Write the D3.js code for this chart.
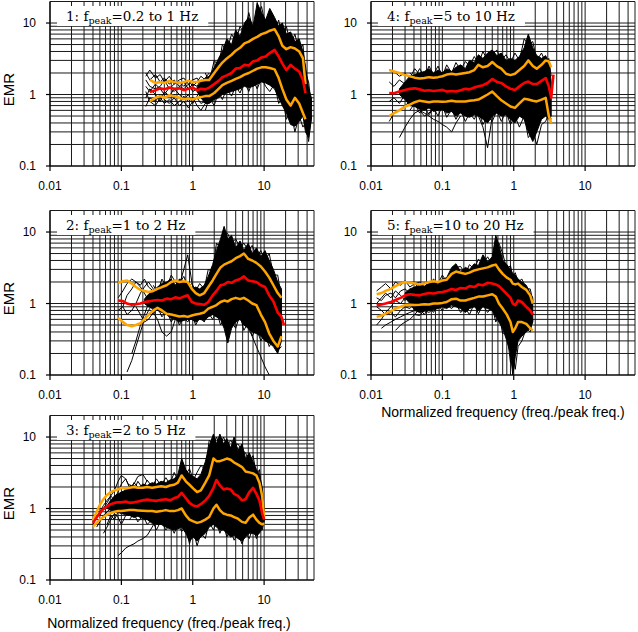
<!DOCTYPE html>
<html><head><meta charset="utf-8">
<script src="https://cdn.jsdelivr.net/npm/d3@7"></script>
<style>body{margin:0;background:#fff}svg{display:block}</style>
</head><body><svg id="c" width="638" height="632"></svg>
<script>
const _ = null;
// ---------- tick labels ----------
const xTickLabels = ["0.01", "0.1", "1", "10"];
const yTickLabels = ["0.1", "1", "10"];
const yTitle = "EMR";
const xTitle = "Normalized frequency (freq./peak freq.)";
const panelNames = ["1", "2", "3", "4", "5"];
const panelRanges = ["=0.2 to 1 Hz", "=1 to 2 Hz", "=2 to 5 Hz", "=5 to 10 Hz", "=10 to 20 Hz"];

// ---------- panel 1 : fpeak 0.2-1 Hz ----------
const f1 = [0.22,0.25,0.3,0.35,0.4,0.47,0.55,0.65,0.75,0.87,1.0,1.15,1.3,1.5,1.7,2.0,2.3,2.6,3.0,3.5,4.0,4.6,5.3,6.1,7.0,8.0,9.2,10.5,12,14,16,18,20.5,23.5,27,31,35,38,42,46];
const mean1 = [_,1.08,1.15,1.22,1.18,1.25,1.2,1.22,1.15,1.2,1.25,1.15,1.2,1.18,1.25,1.4,1.55,1.75,1.85,2.0,2.3,2.35,2.6,2.55,2.9,3.0,3.3,3.4,3.8,4.2,3.4,2.7,2.2,2.6,2.3,2.1,1.6,1.05,_,_];
const sigHi1 = [_,1.6,1.45,1.5,1.45,1.55,1.5,1.45,1.5,1.55,1.5,1.5,1.55,1.6,1.6,2.0,2.4,2.8,3.2,3.6,4.1,4.5,5.2,5.5,6.0,6.4,7.0,7.3,7.8,8.2,6.5,4.8,4.3,4.6,4.4,4.0,3.2,1.4,_,_];
const sigLo1 = [_,0.8,0.9,0.95,0.9,0.98,0.95,0.9,0.86,0.88,0.85,0.9,0.92,0.95,0.95,1.05,1.2,1.35,1.45,1.55,1.65,1.75,1.9,2.0,2.15,2.3,2.4,2.4,2.35,2.25,1.7,1.2,0.85,0.7,0.9,0.75,0.55,0.45,_,_];
const envHi1 = [_,_,_,_,_,_,_,_,_,_,_,1.25,1.5,1.7,1.8,2.4,3.2,4.0,6.0,5.0,8.0,6.5,10,12,9,19,14,11,16,12,9,10,7,7.5,5.5,6,4.0,2.5,1.2,0.9];
const envLo1 = [_,_,_,_,_,_,_,_,_,_,_,1.1,0.9,0.75,0.75,0.85,0.9,1.0,1.05,1.1,1.15,1.2,1.3,1.25,1.3,1.4,1.5,1.45,1.35,1.2,0.9,0.7,0.55,0.38,0.36,0.42,0.5,0.3,0.25,0.45];
const spikeHi1 = [_,_,_,_,_,_,_,_,_,_,_,_,_,2.0,1.5,3.0,2.5,5.0,4.0,7.0,5.5,9.0,7.0,14,8,12,17,9,13,8,11,6,9,5,7,4,5,2,1.5,0.7];
const spikeLo1 = [_,_,_,_,_,_,_,_,_,_,_,_,_,0.6,0.9,0.7,1.1,0.85,1.2,0.95,1.3,1.05,1.5,1.1,1.6,1.2,1.7,1.3,1.1,1.4,0.75,0.9,0.45,0.6,0.3,0.5,0.35,0.4,0.22,0.5];
const traces1 = [
  [2.0,1.6,1.9,1.5,1.7,1.4,1.6,1.3,1.5,1.2,1.4,1.3,1.6,1.5,1.8],
  [0.68,0.9,0.8,1.0,0.85,0.75,0.9,0.7,0.8,0.65,0.8,0.9,0.75,0.8,1.0],
  [1.3,1.1,1.4,1.2,1.0,1.25,1.1,1.3,1.2,1.4,1.1,1.2,1.0,1.3,1.5],
  [0.9,1.2,1.0,0.8,1.1,0.95,1.2,1.0,0.85,1.0,0.75,0.95,1.1,1.0,1.2],
  [1.6,1.3,1.2,1.3,1.6,1.2,1.4,1.5,1.3,1.6,1.3,1.5,1.8,1.6,1.7],
  [1.1,0.8,0.7,0.9,0.75,0.85,0.7,0.8,0.95,0.8,0.9,0.7,0.6,0.75,0.9],
  [1.8,2.2,1.7,1.9,1.5,1.8,1.4,1.6,1.7,1.4,1.6,1.7,1.4,1.7,2.0]
];

// ---------- panel 2 : fpeak 1-2 Hz ----------
const f2 = [0.09,0.105,0.12,0.14,0.16,0.185,0.21,0.24,0.28,0.32,0.37,0.43,0.5,0.57,0.65,0.75,0.85,0.97,1.1,1.25,1.45,1.65,1.9,2.15,2.45,2.75,3.1,3.5,4.0,4.6,5.2,6.0,6.8,7.8,9.0,10.3,11.8,13.5,15.5,17.5,19];
const mean2 = [1.1,1.08,1.0,0.96,0.98,1.0,1.05,1.07,1.1,1.12,1.1,1.17,1.15,1.22,1.18,1.25,1.3,1.05,1.0,0.98,0.96,1.05,1.3,1.5,1.8,1.85,2.0,1.95,2.1,2.2,2.4,2.1,2.05,2.0,1.8,1.7,1.3,1.07,0.75,0.65,0.5];
const sigHi2 = [1.95,2.05,2.1,1.9,1.7,1.55,1.5,1.45,1.5,1.6,1.7,1.8,2.0,2.1,2.0,2.05,2.0,1.6,1.4,1.3,1.4,1.7,2.1,2.6,3.2,3.5,3.7,3.9,4.3,4.6,5.0,4.2,4.0,3.7,3.3,2.8,2.3,1.8,1.4,1.2,_];
const sigLo2 = [0.63,0.55,0.5,0.48,0.5,0.53,0.6,0.7,0.8,0.87,0.8,0.72,0.7,0.68,0.66,0.67,0.65,0.68,0.7,0.72,0.75,0.85,0.9,0.95,1.05,1.1,1.07,1.15,1.2,1.15,1.2,1.1,1.0,0.95,0.7,0.55,0.38,0.3,0.25,0.35,_];
const envHi2 = [_,_,_,_,_,_,1.15,1.35,1.5,1.7,1.9,2.0,2.2,1.8,2.2,2.0,1.9,1.6,1.7,1.6,1.8,2.4,3.5,5.5,8.0,12,8,9,6,7.5,5.5,7.0,5.0,6.0,4.5,5.5,4.0,3.0,2.0,1.6,_];
const envLo2 = [_,_,_,_,_,_,1.0,0.9,0.85,0.8,0.75,0.7,0.62,0.6,0.55,0.58,0.6,0.6,0.55,0.6,0.58,0.65,0.7,0.65,0.6,0.45,0.28,0.45,0.55,0.6,0.5,0.45,0.4,0.38,0.35,0.3,0.28,0.25,0.2,0.3,_];
const spikeHi2 = [_,_,_,_,_,_,_,_,1.8,1.4,2.2,1.7,2.5,2.0,1.9,2.4,1.7,1.9,1.5,1.9,1.6,3.0,2.8,7.0,6.0,10,9.5,7,8,6,7,5.5,6.5,4.5,5.5,4.0,5.0,2.5,2.5,1.2,_];
const spikeLo2 = [_,_,_,_,_,_,_,_,0.7,0.9,0.65,0.8,0.55,0.7,0.5,0.65,0.55,0.7,0.5,0.65,0.55,0.75,0.6,0.8,0.5,0.6,0.35,0.55,0.45,0.7,0.42,0.55,0.35,0.45,0.3,0.38,0.25,0.32,0.22,0.25,_];
const traces2 = [
  [1.2,1.5,1.9,2.2,2.0,1.8,2.2,1.7,1.5,1.3,1.4,1.2,1.3],
  [_,_,0.11,0.16,0.25,0.4,0.6,0.8,1.0,1.2,1.1,1.3,1.2],
  [_,0.9,1.3,1.6,2.0,1.7,1.4,1.1,0.9,1.0,1.2,1.0,1.1],
  [_,_,_,0.2,0.3,0.5,0.7,1.0,0.8,0.9,1.0,0.85,0.95],
  [0.8,0.9,0.7,0.8,1.0,1.4,1.7,2.0,1.6,1.3,1.5,1.7,1.4],
  [_,_,_,_,0.9,0.7,0.55,0.6,0.75,0.6,0.4,0.35,0.4,0.6,0.8,1.0],
  [_,_,_,_,_,_,_,_,_,_,_,_,1.2,1.4,1.8,3.0,4.8,2.0,1.2],
  [_,_,_,_,_,_,_,_,_,_,_,_,_,_,_,_,_,_,_,_,_,_,_,_,_,_,_,_,_,_,0.55,0.45,0.35,0.25,0.18,0.13,0.1]
];

// ---------- panel 3 : fpeak 2-5 Hz ----------
const f3 = [0.04,0.045,0.05,0.056,0.063,0.071,0.08,0.09,0.1,0.115,0.13,0.15,0.17,0.2,0.23,0.27,0.31,0.36,0.42,0.48,0.55,0.62,0.7,0.8,0.9,1.02,1.15,1.3,1.5,1.7,1.95,2.15,2.4,2.7,3.0,3.4,3.8,4.3,4.9,5.5,6.2,7.0,7.8,8.6,9.4,10];
const mean3 = [0.63,0.75,0.87,0.98,1.07,1.15,1.2,1.22,1.22,1.25,1.2,1.22,1.25,1.3,1.33,1.3,1.28,1.32,1.35,1.3,1.4,1.45,1.65,1.4,1.2,1.1,1.07,1.15,1.3,1.5,1.95,2.5,2.1,1.85,1.9,1.85,1.6,1.5,1.3,1.35,1.7,1.95,1.6,1.3,0.85,0.7];
const sigHi3 = [0.68,0.9,1.13,1.35,1.55,1.7,1.8,1.85,1.95,1.9,1.95,2.0,1.95,1.95,2.0,1.95,2.0,2.05,2.0,2.1,2.15,2.3,2.9,2.4,2.15,1.9,1.7,1.8,2.3,2.9,5.0,4.6,4.6,4.8,5.0,4.8,4.4,4.1,3.8,3.3,3.2,3.1,2.9,2.3,1.5,0.75];
const sigLo3 = [0.56,0.63,0.7,0.76,0.82,0.86,0.9,0.92,0.92,0.94,0.95,0.95,0.94,0.93,0.92,0.92,0.9,0.92,0.95,0.92,0.92,0.95,1.0,0.8,0.7,0.66,0.63,0.65,0.7,0.76,1.0,1.13,0.95,0.85,0.82,0.8,0.76,0.72,0.65,0.63,0.75,0.82,0.7,0.63,0.6,0.62];
const envHi3 = [_,_,_,_,1.1,1.3,1.5,1.6,1.7,1.8,1.9,2.1,1.9,2.2,2.1,2.3,2.2,2.4,2.3,2.5,2.6,3.0,5.0,3.5,3.0,2.8,2.6,3.0,4.5,7.5,11,8.0,11,8.0,9.5,7.0,10,6.5,8.0,5.0,6.0,4.5,3.5,3.0,2.0,1.0];
const envLo3 = [_,_,_,_,1.0,0.95,0.9,0.88,0.85,0.82,0.8,0.75,0.78,0.72,0.7,0.62,0.6,0.6,0.55,0.52,0.5,0.52,0.55,0.45,0.35,0.4,0.35,0.4,0.45,0.55,0.6,0.55,0.5,0.5,0.45,0.4,0.42,0.38,0.35,0.4,0.45,0.45,0.42,0.45,0.55,0.65];
const spikeHi3 = [_,_,_,_,_,_,_,_,_,_,2.2,1.8,2.4,1.9,2.5,2.0,2.6,2.1,2.7,2.2,3.2,2.5,4.0,3.0,3.6,2.5,3.2,4.0,3.5,9.0,8.0,10,7.5,10,7.5,9.0,7.5,8.0,6.5,6.0,4.5,5.5,3.0,3.5,1.5,0.9];
const spikeLo3 = [_,_,_,_,_,_,_,_,_,_,0.7,0.85,0.65,0.8,0.6,0.7,0.5,0.68,0.5,0.6,0.45,0.6,0.48,0.55,0.32,0.5,0.3,0.45,0.38,0.65,0.5,0.65,0.45,0.6,0.4,0.5,0.36,0.45,0.32,0.45,0.38,0.55,0.38,0.5,0.5,0.7];
const traces3 = [
  [0.6,0.75,0.9,1.1,1.3,1.5,1.8,2.4,2.9,2.6,2.0,2.2,2.8,3.0,2.4],
  [_,0.55,0.65,0.8,0.9,1.0,1.2,1.1,1.3,1.2,1.4,1.3,1.5,1.4,1.6],
  [_,_,0.7,0.75,0.9,1.0,1.4,1.7,2.2,2.6,2.0,1.7,1.9,1.6,1.8],
  [_,_,_,0.45,0.55,0.7,0.85,0.75,0.6,0.8,0.9,1.0,0.85,1.1,1.0],
  [_,_,_,_,_,_,_,0.22,0.24,0.28,0.3,0.32,0.35,0.38,0.42,0.55,0.7,0.85,1.0],
  [_,_,0.8,1.0,1.2,1.5,1.3,1.6,1.4,1.9,1.7,2.3,2.0,1.8,2.1],
  [_,_,_,_,0.6,0.8,0.7,0.9,1.0,0.85,1.05,0.9,1.2,1.0,1.1]
];

// ---------- panel 4 : fpeak 5-10 Hz ----------
const f4 = [0.018,0.021,0.025,0.03,0.035,0.041,0.048,0.056,0.065,0.075,0.087,0.1,0.115,0.135,0.155,0.18,0.21,0.24,0.28,0.32,0.37,0.43,0.5,0.58,0.67,0.78,0.9,1.04,1.2,1.4,1.6,1.85,2.1,2.45,2.8,3.1,3.35,3.6];
const mean4 = [1.05,1.04,1.1,1.16,1.2,1.22,1.18,1.13,1.15,1.12,1.14,1.16,1.1,1.12,1.1,1.15,1.2,1.18,1.25,1.3,1.35,1.45,1.65,1.5,1.45,1.3,1.2,1.16,1.3,1.45,1.52,1.4,1.4,1.55,1.7,1.3,0.9,1.9];
const sigHi4 = [2.2,2.1,2.0,1.87,1.8,1.72,1.68,1.7,1.75,1.72,1.75,1.8,1.9,1.95,1.9,1.95,2.0,2.05,2.2,2.6,2.4,2.5,2.85,2.5,2.3,1.95,1.87,1.95,2.2,2.5,3.0,2.5,2.3,2.6,3.0,2.9,2.4,_];
const sigLo4 = [0.5,0.55,0.6,0.68,0.72,0.78,0.82,0.8,0.78,0.8,0.8,0.79,0.8,0.82,0.8,0.8,0.8,0.82,0.83,0.85,0.92,1.0,1.1,0.95,0.83,0.75,0.68,0.65,0.75,0.87,0.85,0.82,0.8,0.85,0.9,0.5,0.4,_];
const envHi4 = [_,_,1.2,1.5,1.8,1.9,2.0,2.1,2.3,2.0,2.2,2.0,2.3,2.1,2.4,2.6,2.3,3.0,2.8,3.6,3.2,3.8,4.2,3.5,3.8,3.0,3.2,3.0,3.4,4.5,7.0,4.5,3.5,3.2,3.5,2.8,1.5,_];
const envLo4 = [_,_,1.0,0.85,0.7,0.68,0.62,0.6,0.65,0.58,0.6,0.62,0.55,0.58,0.5,0.55,0.5,0.48,0.52,0.5,0.45,0.4,0.5,0.55,0.5,0.52,0.45,0.4,0.5,0.45,0.3,0.22,0.3,0.45,0.5,0.45,0.5,_];
const spikeHi4 = [_,_,_,_,2.0,1.7,2.3,1.8,2.5,1.9,2.5,1.8,2.6,2.0,2.8,2.2,2.9,2.5,3.4,2.7,4.0,3.0,3.6,4.2,3.0,3.6,2.8,3.8,3.0,6.0,5.0,5.5,3.0,3.8,2.8,3.2,1.8,_];
const spikeLo4 = [_,_,_,_,0.6,0.75,0.55,0.68,0.52,0.65,0.5,0.7,0.48,0.62,0.45,0.6,0.42,0.55,0.45,0.6,0.38,0.5,0.42,0.6,0.42,0.58,0.38,0.5,0.35,0.5,0.25,0.3,0.2,0.38,0.42,0.55,0.45,_];
const traces4 = [
  [2.2,2.1,1.8,2.0,1.7,2.3,1.9,1.6,2.0,1.8,1.5,1.9],
  [0.42,0.55,0.6,0.7,0.8,0.75,0.9,0.85,1.0,0.9,1.1,1.0],
  [1.5,1.3,1.6,1.4,1.2,1.5,1.3,1.6,1.4,1.7,1.3,1.5],
  [0.8,0.9,0.75,1.0,0.85,0.7,0.65,0.8,0.9,0.7,0.8,0.75],
  [_,_,0.25,0.35,0.45,0.55,0.6,0.5,0.55,0.65,0.7,0.6],
  [_,_,_,_,_,_,0.6,0.55,0.5,0.45,0.42,0.38,0.35,0.3,0.4,0.5],
  [_,_,_,_,_,_,_,_,_,_,_,_,_,_,_,_,_,_,0.6,0.5,0.35,0.18,0.5]
];

// ---------- panel 5 : fpeak 10-20 Hz ----------
const f5 = [0.012,0.014,0.016,0.019,0.022,0.026,0.03,0.035,0.041,0.048,0.056,0.065,0.075,0.087,0.1,0.115,0.135,0.155,0.18,0.21,0.24,0.28,0.32,0.37,0.43,0.5,0.56,0.62,0.7,0.8,0.9,0.97,1.05,1.15,1.3,1.5,1.7,1.85];
const mean5 = [0.95,0.97,1.0,1.05,1.12,1.2,1.3,1.35,1.32,1.3,1.36,1.4,1.38,1.43,1.45,1.5,1.6,1.55,1.65,1.62,1.75,1.7,1.85,1.8,1.95,1.9,1.85,1.75,1.55,1.35,1.2,1.0,0.95,1.1,1.05,0.9,0.8,0.7];
const sigHi5 = [1.35,1.4,1.5,1.6,1.75,1.9,2.0,1.95,1.9,1.85,1.9,2.0,2.05,2.0,2.1,2.15,2.6,2.8,2.7,2.6,2.7,2.9,3.0,3.1,3.2,3.4,3.5,3.0,2.6,2.3,2.15,1.9,1.85,1.9,1.7,1.55,1.3,1.0];
const sigLo5 = [0.65,0.68,0.72,0.78,0.85,0.9,0.95,0.96,0.95,0.96,0.98,0.97,1.0,1.0,1.02,1.05,1.15,1.17,1.1,1.1,1.15,1.2,1.25,1.25,1.3,1.35,1.25,1.0,0.85,0.7,0.55,0.4,0.45,0.55,0.55,0.52,0.45,0.42];
const envHi5 = [_,_,_,_,_,_,1.4,1.6,1.7,1.8,1.75,1.9,2.0,1.85,2.2,2.3,3.2,3.6,2.8,3.2,3.0,3.6,3.4,4.8,3.8,4.5,9.0,6.5,4.0,3.5,3.0,2.6,2.5,2.2,2.0,1.8,1.4,1.2];
const envLo5 = [_,_,_,_,_,_,1.2,1.0,0.8,0.75,0.78,0.8,0.82,0.85,0.9,0.85,0.95,0.9,0.85,0.75,0.85,0.9,0.8,0.9,0.85,0.8,0.65,0.55,0.45,0.3,0.2,0.1,0.18,0.3,0.35,0.4,0.45,0.55];
const spikeHi5 = [_,_,_,_,_,_,_,_,1.9,1.6,2.0,1.7,2.2,1.9,2.5,2.0,2.7,3.2,3.3,2.6,3.5,3.0,4.2,3.5,4.5,3.5,7.5,7.0,5.0,3.0,3.4,2.4,2.7,2.0,2.2,1.6,1.6,1.1];
const spikeLo5 = [_,_,_,_,_,_,_,_,0.7,0.85,0.7,0.9,0.75,0.95,0.8,0.95,0.85,1.0,0.75,0.85,0.7,1.0,0.72,0.95,0.75,0.9,0.55,0.7,0.38,0.4,0.15,0.2,0.12,0.25,0.3,0.45,0.4,0.6];
const traces5 = [
  [0.5,0.6,0.75,0.9,1.1,1.0,1.2,1.1,1.3,1.2,1.0,1.1,1.2],
  [1.5,1.7,1.9,1.6,2.0,1.8,2.1,1.7,1.9,2.0,1.7,1.9,1.8],
  [_,0.45,0.5,0.55,0.6,0.65,0.7,0.75,0.8,0.9,0.85,0.95,1.0],
  [0.9,0.8,0.7,0.75,0.65,0.8,0.9,0.85,1.0,0.9,1.05,0.95,1.1],
  [1.2,1.1,1.3,1.4,1.2,1.5,1.6,1.4,1.7,1.5,1.4,1.6,1.5],
  [_,_,_,_,0.42,0.5,0.55,0.6,0.7,0.68,0.8,0.75,0.85],
  [1.0,1.2,1.4,1.2,1.5,1.3,1.1,1.35,1.2,1.5,1.6,1.3,1.4]
];

// ---------- assemble ----------
const panels = [
  {name: panelNames[0], range: panelRanges[0], f: f1, mean: mean1, hi: sigHi1, lo: sigLo1, eh: envHi1, el: envLo1, sh: spikeHi1, sl: spikeLo1, tr: traces1, col: 0, row: 0, ytitle: true, xtitle: false},
  {name: panelNames[1], range: panelRanges[1], f: f2, mean: mean2, hi: sigHi2, lo: sigLo2, eh: envHi2, el: envLo2, sh: spikeHi2, sl: spikeLo2, tr: traces2, col: 0, row: 1, ytitle: true, xtitle: false},
  {name: panelNames[2], range: panelRanges[2], f: f3, mean: mean3, hi: sigHi3, lo: sigLo3, eh: envHi3, el: envLo3, sh: spikeHi3, sl: spikeLo3, tr: traces3, col: 0, row: 2, ytitle: true, xtitle: true},
  {name: panelNames[3], range: panelRanges[3], f: f4, mean: mean4, hi: sigHi4, lo: sigLo4, eh: envHi4, el: envLo4, sh: spikeHi4, sl: spikeLo4, tr: traces4, col: 1, row: 0, ytitle: false, xtitle: false},
  {name: panelNames[4], range: panelRanges[4], f: f5, mean: mean5, hi: sigHi5, lo: sigLo5, eh: envHi5, el: envLo5, sh: spikeHi5, sl: spikeLo5, tr: traces5, col: 1, row: 1, ytitle: false, xtitle: true}
];

const svg = d3.select("#c");
const colLeft = [50, 371], colWidth = 264;
const rowBottom = [166, 375, 580], rowHeight = 164.5;
const xTitleCenter = [169, 503], xTitleBase = [0, 417, 628];
const sans = "'Liberation Sans', Arial, sans-serif";
const serif = "'DejaVu Serif', serif";

panels.forEach(p => {
  const x = d3.scaleLog().domain([0.01, 50]).range([colLeft[p.col], colLeft[p.col] + colWidth]);
  const y = d3.scaleLog().domain([0.1, 20]).range([rowBottom[p.row], rowBottom[p.row] - rowHeight]);
  const g = svg.append("g");
  const [x0, x1] = x.range(), [y0, y1] = y.range();

  // grid
  const gg = g.append("g").attr("stroke", "#1a1a1a").attr("stroke-width", 1);
  x.ticks().forEach(t => gg.append("line").attr("x1", x(t)).attr("x2", x(t)).attr("y1", y0).attr("y2", y1));
  y.ticks().forEach(t => gg.append("line").attr("x1", x0).attr("x2", x1).attr("y1", y(t)).attr("y2", y(t)));

  // label box
  const base = y(10) - 2;
  const lab = g.append("text").attr("x", x0 + 16).attr("y", base)
    .attr("font-family", serif).attr("font-size", 13.5).attr("fill", "#000");
  lab.append("tspan").text(p.name + ": f");
  lab.append("tspan").attr("font-size", 9.5).attr("dy", 3).text("peak");
  lab.append("tspan").attr("dy", -3).text(p.range);
  const bb = lab.node().getBBox();
  g.insert("rect", "text").attr("x", bb.x - 9).attr("y", base - 15).attr("width", bb.width + 19).attr("height", 20).attr("fill", "#fff");

  const pts = arr => arr.map((v, i) => [p.f[i], v]);
  const line = d3.line().defined(d => d[1] != null).x(d => x(d[0])).y(d => y(d[1]));
  const data = g.append("g");

  // black envelope of the individual records
  const env = p.f.map((f, i) => [f, p.el[i], p.eh[i]]);
  const area = d3.area().defined(d => d[1] != null && d[2] != null)
    .x(d => x(d[0])).y0(d => y(d[1])).y1(d => y(d[2]));
  data.append("path").attr("d", area(env)).attr("fill", "#000").attr("stroke", "#000").attr("stroke-width", 1);
  // outer records and sparse individual records
  [p.sh, p.sl].concat(p.tr).forEach(t => data.append("path").attr("d", line(pts(t)))
    .attr("fill", "none").attr("stroke", "#000").attr("stroke-width", 1));
  // mean +/- sigma
  [p.hi, p.lo].forEach(s => data.append("path").attr("d", line(pts(s))).attr("fill", "none")
    .attr("stroke", "#ffa500").attr("stroke-width", 2.5).attr("stroke-linejoin", "round"));
  data.append("path").attr("d", line(pts(p.mean))).attr("fill", "none")
    .attr("stroke", "#ff0000").attr("stroke-width", 2.6).attr("stroke-linejoin", "round");

  // axes
  const ax = g.append("g").attr("stroke", "#000").attr("stroke-width", 1.2);
  ax.append("line").attr("x1", x0).attr("x2", x0).attr("y1", y0).attr("y2", y1);
  ax.append("line").attr("x1", x0).attr("x2", x1).attr("y1", y0).attr("y2", y0);
  yTickLabels.forEach(l => {
    const v = +l;
    ax.append("line").attr("x1", x0 - 4).attr("x2", x0).attr("y1", y(v)).attr("y2", y(v));
    g.append("text").attr("x", x0 - 14).attr("y", y(v)).attr("dy", "0.35em").attr("text-anchor", "end")
      .attr("font-family", sans).attr("font-size", 12).text(l);
  });
  xTickLabels.forEach(l => {
    const v = +l;
    ax.append("line").attr("x1", x(v)).attr("x2", x(v)).attr("y1", y0).attr("y2", y0 + 5);
    g.append("text").attr("x", x(v)).attr("y", y0 + 24).attr("text-anchor", "middle")
      .attr("font-family", sans).attr("font-size", 12).text(l);
  });
  if (p.ytitle) {
    g.append("text").attr("transform", `translate(14,${y(1) - 5}) rotate(-90)`).attr("text-anchor", "middle")
      .attr("font-family", sans).attr("font-size", 15).text(yTitle);
  }
  if (p.xtitle) {
    g.append("text").attr("x", xTitleCenter[p.col]).attr("y", xTitleBase[p.row]).attr("text-anchor", "middle")
      .attr("font-family", sans).attr("font-size", 14).text(xTitle);
  }
});
</script>
</body></html>
